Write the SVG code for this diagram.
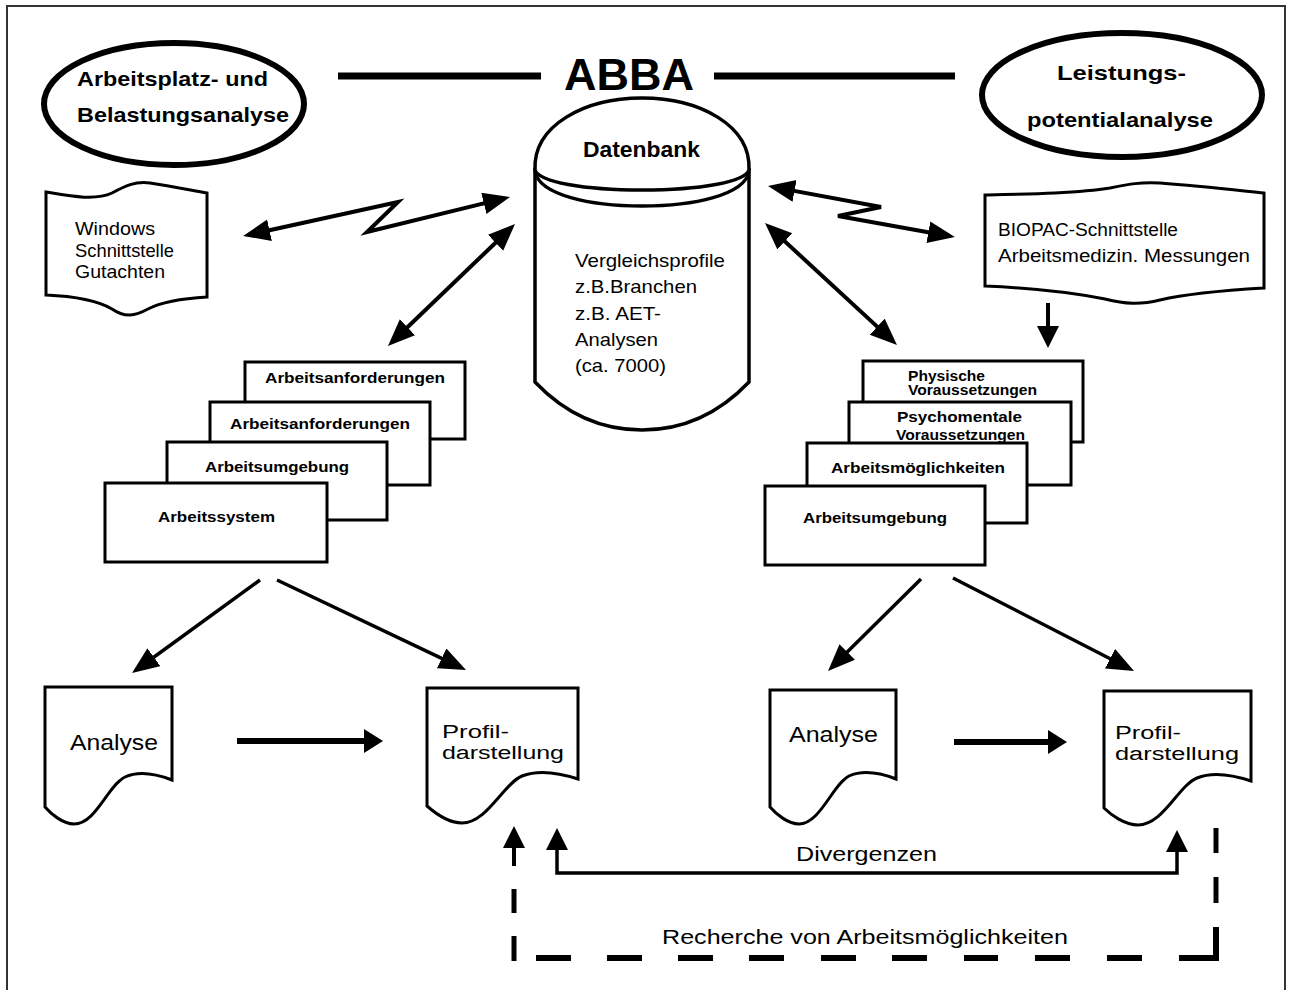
<svg xmlns="http://www.w3.org/2000/svg" width="1292" height="990" viewBox="0 0 1292 990">
<style>
.t{font-family:"Liberation Sans",Arial,Helvetica,sans-serif;fill:#000}
.b{font-weight:bold}
.sh{fill:#fff;stroke:#000;stroke-linejoin:miter}
.ln{fill:none;stroke:#000}
</style>
<defs>
<marker id="ah" markerUnits="userSpaceOnUse" viewBox="0 0 28 24" markerWidth="28" markerHeight="24" refX="21" refY="11" orient="auto-start-reverse"><path d="M0,0 L27,11 L0,22 Z" fill="#000"/></marker>
<marker id="ahs" markerUnits="userSpaceOnUse" viewBox="0 0 24 24" markerWidth="24" markerHeight="24" refX="16" refY="11" orient="auto-start-reverse"><path d="M0,0 L22,11 L0,22 Z" fill="#000"/></marker>
<marker id="ahw" markerUnits="userSpaceOnUse" viewBox="0 0 20 26" markerWidth="20" markerHeight="26" refX="12" refY="12" orient="auto-start-reverse"><path d="M0,0 L19,12 L0,24 Z" fill="#000"/></marker>
</defs>
<rect width="1292" height="990" fill="#fff"/>
<path d="M7,995 V6 H1285 V995" fill="none" stroke="#333" stroke-width="2"/>

<g id="title">
<text class="t b" x="629" y="90" font-size="45" text-anchor="middle">ABBA</text>
</g>

<g id="ellipse-left">
<ellipse cx="174" cy="104" rx="130" ry="61" fill="#fff" stroke="#000" stroke-width="6"/>
<text class="t b" x="77" y="86" font-size="21" textLength="191" lengthAdjust="spacingAndGlyphs">Arbeitsplatz- und</text>
<text class="t b" x="77" y="122" font-size="21" textLength="212" lengthAdjust="spacingAndGlyphs">Belastungsanalyse</text>
</g>

<g id="ellipse-right">
<ellipse cx="1122" cy="95" rx="140" ry="62" fill="#fff" stroke="#000" stroke-width="6"/>
<text class="t b" x="1057" y="80" font-size="21" textLength="129" lengthAdjust="spacingAndGlyphs">Leistungs-</text>
<text class="t b" x="1027" y="127" font-size="21" textLength="186" lengthAdjust="spacingAndGlyphs">potentialanalyse</text>
</g>

<g id="datenbank">
<path class="sh" stroke-width="3.5" d="M535,168 V382 C555,403 590,430 642,430 C694,430 729,403 749,382 V168"/>
<path class="sh" stroke-width="3.5" d="M535,170 C533,125 585,98 642,98 C699,98 751,125 749,170 C745,182 700,190 642,190 C584,190 539,182 535,170 Z"/>
<path class="ln" stroke-width="3.5" d="M535,172 C540,195 590,206 642,206 C694,206 744,195 749,172"/>
<text class="t b" x="583" y="157" font-size="22" textLength="117" lengthAdjust="spacingAndGlyphs">Datenbank</text>
<text class="t" x="575" y="267" font-size="19" textLength="150" lengthAdjust="spacingAndGlyphs">Vergleichsprofile</text>
<text class="t" x="575" y="293" font-size="19" textLength="122" lengthAdjust="spacingAndGlyphs">z.B.Branchen</text>
<text class="t" x="575" y="320" font-size="19" textLength="86" lengthAdjust="spacingAndGlyphs">z.B. AET-</text>
<text class="t" x="575" y="346" font-size="19" textLength="83" lengthAdjust="spacingAndGlyphs">Analysen</text>
<text class="t" x="575" y="372" font-size="19" textLength="91" lengthAdjust="spacingAndGlyphs">(ca. 7000)</text>
</g>

<g id="windows">
<path class="sh" stroke-width="3" d="M46,192 C70,196 95,201 112,193 C125,186 135,181 150,183 C170,186 190,190 207,193 V297 C190,298 165,300 148,309 C135,316 125,318 112,309 C95,299 70,296 46,295 Z"/>
<text class="t" x="75" y="235" font-size="19" textLength="80" lengthAdjust="spacingAndGlyphs">Windows</text>
<text class="t" x="75" y="257" font-size="19" textLength="99" lengthAdjust="spacingAndGlyphs">Schnittstelle</text>
<text class="t" x="75" y="278" font-size="19" textLength="90" lengthAdjust="spacingAndGlyphs">Gutachten</text>
</g>

<g id="biopac">
<path class="sh" stroke-width="3" d="M985,195 C1030,194 1080,193 1110,188 C1130,184 1140,182 1160,183 C1200,186 1235,190 1264,193 V288 C1230,290 1190,293 1160,300 C1140,305 1125,304 1105,299 C1070,292 1030,288 985,286 Z"/>
<text class="t" x="998" y="236" font-size="18" textLength="180" lengthAdjust="spacingAndGlyphs">BIOPAC-Schnittstelle</text>
<text class="t" x="998" y="262" font-size="18" textLength="252" lengthAdjust="spacingAndGlyphs">Arbeitsmedizin. Messungen</text>
</g>

<g id="stack-left">
<rect class="sh" x="245" y="362" width="220" height="77" stroke-width="3"/>
<text class="t b" x="265" y="383" font-size="15" textLength="180" lengthAdjust="spacingAndGlyphs">Arbeitsanforderungen</text>
<rect class="sh" x="210" y="402" width="220" height="83" stroke-width="3"/>
<text class="t b" x="230" y="429" font-size="15" textLength="180" lengthAdjust="spacingAndGlyphs">Arbeitsanforderungen</text>
<rect class="sh" x="167" y="442" width="220" height="78" stroke-width="3"/>
<text class="t b" x="205" y="472" font-size="15" textLength="144" lengthAdjust="spacingAndGlyphs">Arbeitsumgebung</text>
<rect class="sh" x="105" y="483" width="222" height="79" stroke-width="3"/>
<text class="t b" x="158" y="522" font-size="15" textLength="117" lengthAdjust="spacingAndGlyphs">Arbeitssystem</text>
</g>

<g id="stack-right">
<rect class="sh" x="863" y="361" width="220" height="81" stroke-width="3"/>
<text class="t b" font-size="14"><tspan x="908" y="381" textLength="77" lengthAdjust="spacingAndGlyphs">Physische</tspan><tspan x="908" y="395" textLength="129" lengthAdjust="spacingAndGlyphs">Voraussetzungen</tspan></text>
<rect class="sh" x="849" y="402" width="222" height="83" stroke-width="3"/>
<text class="t b" font-size="15"><tspan x="897" y="422" textLength="125" lengthAdjust="spacingAndGlyphs">Psychomentale</tspan><tspan x="896" y="440" textLength="129" lengthAdjust="spacingAndGlyphs">Voraussetzungen</tspan></text>
<rect class="sh" x="807" y="443" width="220" height="80" stroke-width="3"/>
<text class="t b" x="831" y="473" font-size="15" textLength="174" lengthAdjust="spacingAndGlyphs">Arbeitsmöglichkeiten</text>
<rect class="sh" x="765" y="486" width="220" height="79" stroke-width="3"/>
<text class="t b" x="803" y="523" font-size="15" textLength="144" lengthAdjust="spacingAndGlyphs">Arbeitsumgebung</text>
</g>

<g id="analyse-left">
<path class="sh" stroke-width="3" d="M45,687 H172 V780 C159,775 140,770 125,777 C108,785 96,824 74,824 C63,824 51,814 45,807 Z"/>
<text class="t" x="70" y="750" font-size="22" textLength="88" lengthAdjust="spacingAndGlyphs">Analyse</text>
</g>

<g id="profil-left">
<path class="sh" stroke-width="3" d="M427,688 H578 V779 C563,774 540,769 522,776 C503,784 487,823 462,823 C448,823 435,813 427,806 Z"/>
<text class="t" font-size="18"><tspan x="442" y="738" textLength="67" lengthAdjust="spacingAndGlyphs">Profil-</tspan><tspan x="442" y="759" textLength="122" lengthAdjust="spacingAndGlyphs">darstellung</tspan></text>
</g>

<g id="analyse-right">
<path class="sh" stroke-width="3" d="M770,690 H896 V779 C883,774 865,769 849,776 C833,784 820,824 799,824 C788,824 776,814 770,807 Z"/>
<text class="t" x="789" y="742" font-size="22" textLength="89" lengthAdjust="spacingAndGlyphs">Analyse</text>
</g>

<g id="profil-right">
<path class="sh" stroke-width="3" d="M1104,691 H1251 V781 C1236,776 1214,771 1197,778 C1178,786 1163,825 1138,825 C1125,825 1111,815 1104,808 Z"/>
<text class="t" font-size="18"><tspan x="1115" y="739" textLength="66" lengthAdjust="spacingAndGlyphs">Profil-</tspan><tspan x="1115" y="760" textLength="124" lengthAdjust="spacingAndGlyphs">darstellung</tspan></text>
</g>

<g id="connectors">
<line class="ln" x1="338" y1="76" x2="541" y2="76" stroke-width="7"/>
<line class="ln" x1="714" y1="76" x2="955" y2="76" stroke-width="7"/>
<polyline class="ln" stroke-width="4" points="249,234.7 398,202 367,232 504.2,198.4" marker-start="url(#ah)" marker-end="url(#ah)"/>
<polyline class="ln" stroke-width="4" points="773.9,187.1 881,207 838,216 949,236" marker-start="url(#ah)" marker-end="url(#ah)"/>
<line class="ln" stroke-width="4" x1="392.3" y1="341.8" x2="510.7" y2="228.2" marker-start="url(#ah)" marker-end="url(#ah)"/>
<line class="ln" stroke-width="4" x1="769.4" y1="227.1" x2="892.6" y2="340.9" marker-start="url(#ah)" marker-end="url(#ah)"/>
<line class="ln" stroke-width="4" x1="1048" y1="303" x2="1048" y2="342" marker-end="url(#ahs)"/>
<line class="ln" stroke-width="3.5" x1="260" y1="580" x2="136.9" y2="669.5" marker-end="url(#ah)"/>
<line class="ln" stroke-width="3.5" x1="277" y1="580" x2="460.6" y2="667.4" marker-end="url(#ah)"/>
<line class="ln" stroke-width="3.5" x1="921" y1="579" x2="832.3" y2="666.8" marker-end="url(#ah)"/>
<line class="ln" stroke-width="3.5" x1="953" y1="578" x2="1128.7" y2="668.3" marker-end="url(#ah)"/>
<line class="ln" stroke-width="6" x1="237" y1="741" x2="376" y2="741" marker-end="url(#ahw)"/>
<line class="ln" stroke-width="6" x1="954" y1="742" x2="1060" y2="742" marker-end="url(#ahw)"/>
<path class="ln" stroke-width="3.5" d="M557,834 V873 H1177 V836" marker-start="url(#ahs)" marker-end="url(#ahs)"/>
<text class="t" x="796" y="861" font-size="21" textLength="141" lengthAdjust="spacingAndGlyphs">Divergenzen</text>
<line class="ln" stroke-width="4" x1="514" y1="866" x2="514" y2="832" marker-end="url(#ahs)"/>
<g stroke="#000" stroke-width="5">
<line x1="514" y1="889" x2="514" y2="913"/>
<line x1="514" y1="936" x2="514" y2="961"/>
<line x1="1216" y1="828" x2="1216" y2="853"/>
<line x1="1216" y1="877" x2="1216" y2="903"/>
</g>
<path class="ln" stroke-width="6" d="M1179,958 H1216 V927"/>
<g stroke="#000" stroke-width="6">
<line x1="536" y1="958" x2="571" y2="958"/>
<line x1="607" y1="958" x2="642" y2="958"/>
<line x1="678" y1="958" x2="713" y2="958"/>
<line x1="749" y1="958" x2="784" y2="958"/>
<line x1="821" y1="958" x2="856" y2="958"/>
<line x1="892" y1="958" x2="927" y2="958"/>
<line x1="964" y1="958" x2="998" y2="958"/>
<line x1="1035" y1="958" x2="1070" y2="958"/>
<line x1="1107" y1="958" x2="1142" y2="958"/>
</g>
<text class="t" x="662" y="944" font-size="21" textLength="406" lengthAdjust="spacingAndGlyphs">Recherche von Arbeitsmöglichkeiten</text>
</g>
</svg>
